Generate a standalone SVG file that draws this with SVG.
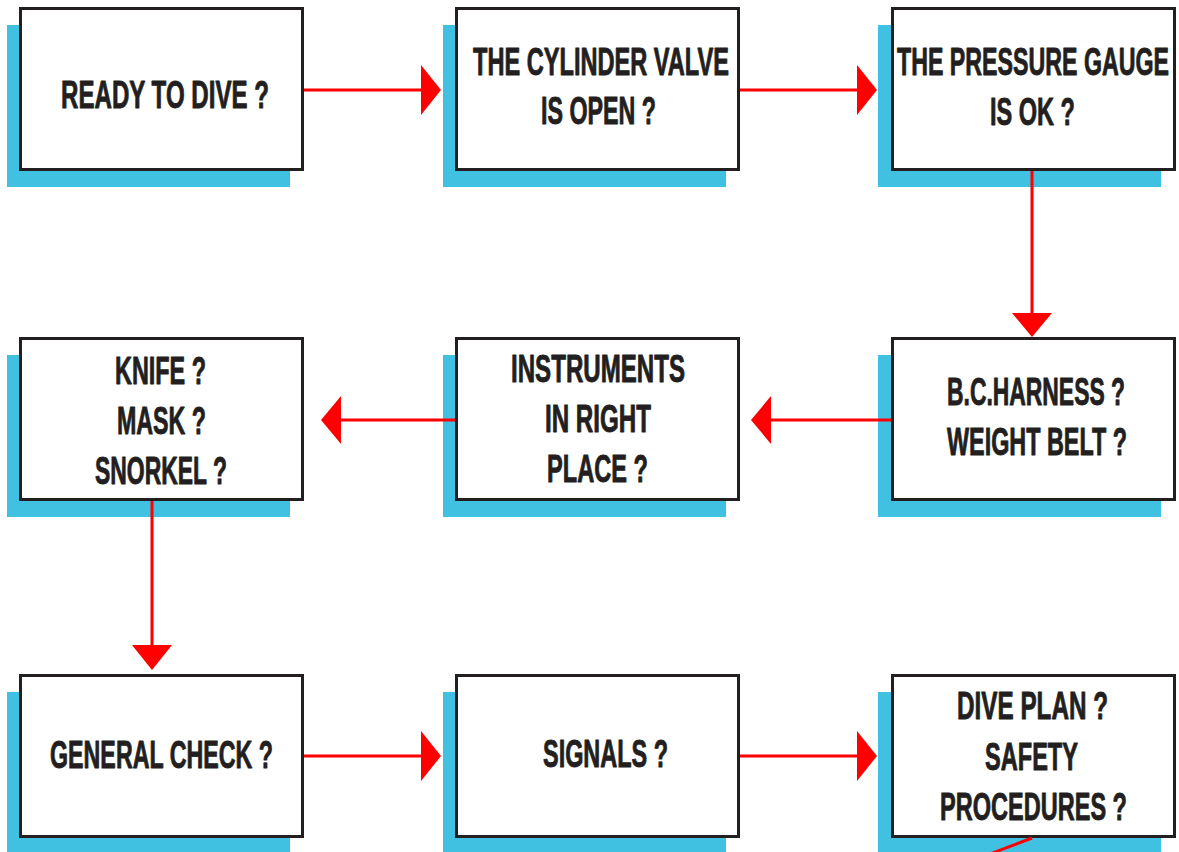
<svg xmlns="http://www.w3.org/2000/svg" width="1179" height="852" viewBox="0 0 1179 852">
  <style>
    .shadow { fill: #41c1e2; }
    .box { fill: #ffffff; stroke: #231f20; stroke-width: 3; }
    .label { font-family: "Liberation Sans", Arial, sans-serif; font-weight: bold; font-size: 38px; fill: #231f20; stroke: #231f20; stroke-width: 0.9; stroke-linejoin: round; text-anchor: middle; }
    .link { stroke: #ff0000; stroke-width: 3; fill: none; }
    .head { fill: #ff0000; }
  </style>
  <rect width="1179" height="852" fill="#ffffff"/>

  <!-- Row 1 -->
  <g id="ready">
    <rect class="shadow" x="7" y="25" width="283" height="162"/>
    <rect class="box" x="20.5" y="8.5" width="282" height="161"/>
    <text class="label" x="165" y="108" textLength="208" lengthAdjust="spacingAndGlyphs">READY TO DIVE ?</text>
  </g>
  <g id="cylinder-valve">
    <rect class="shadow" x="443" y="25" width="283" height="162"/>
    <rect class="box" x="456.5" y="8.5" width="282" height="161"/>
    <text class="label" x="601" y="75" textLength="256" lengthAdjust="spacingAndGlyphs">THE CYLINDER VALVE</text>
    <text class="label" x="598.5" y="124" textLength="115" lengthAdjust="spacingAndGlyphs">IS OPEN ?</text>
  </g>
  <g id="pressure-gauge">
    <rect class="shadow" x="878" y="25" width="283" height="162"/>
    <rect class="box" x="892.5" y="8.5" width="282" height="161"/>
    <text class="label" x="1033" y="75" textLength="272" lengthAdjust="spacingAndGlyphs">THE PRESSURE GAUGE</text>
    <text class="label" x="1032.5" y="125" textLength="85" lengthAdjust="spacingAndGlyphs">IS OK ?</text>
  </g>

  <!-- Row 2 -->
  <g id="knife-mask-snorkel">
    <rect class="shadow" x="7" y="355" width="283" height="162"/>
    <rect class="box" x="20.5" y="338.5" width="282" height="161"/>
    <text class="label" x="160.5" y="384" textLength="91" lengthAdjust="spacingAndGlyphs">KNIFE ?</text>
    <text class="label" x="161.5" y="434" textLength="89" lengthAdjust="spacingAndGlyphs">MASK ?</text>
    <text class="label" x="161" y="484" textLength="132" lengthAdjust="spacingAndGlyphs">SNORKEL ?</text>
  </g>
  <g id="instruments">
    <rect class="shadow" x="443" y="355" width="283" height="162"/>
    <rect class="box" x="456.5" y="338.5" width="282" height="161"/>
    <text class="label" x="598" y="382" textLength="174" lengthAdjust="spacingAndGlyphs">INSTRUMENTS</text>
    <text class="label" x="598" y="432" textLength="106" lengthAdjust="spacingAndGlyphs">IN RIGHT</text>
    <text class="label" x="597.5" y="482" textLength="101" lengthAdjust="spacingAndGlyphs">PLACE ?</text>
  </g>
  <g id="harness-belt">
    <rect class="shadow" x="878" y="355" width="283" height="162"/>
    <rect class="box" x="892.5" y="338.5" width="282" height="161"/>
    <text class="label" x="1036" y="405" textLength="178" lengthAdjust="spacingAndGlyphs">B.C.HARNESS ?</text>
    <text class="label" x="1037" y="455" textLength="180" lengthAdjust="spacingAndGlyphs">WEIGHT BELT ?</text>
  </g>

  <!-- Row 3 -->
  <g id="general-check">
    <rect class="shadow" x="7" y="692" width="283" height="162"/>
    <rect class="box" x="20.5" y="675.5" width="282" height="161"/>
    <text class="label" x="161.5" y="768" textLength="223" lengthAdjust="spacingAndGlyphs">GENERAL CHECK ?</text>
  </g>
  <g id="signals">
    <rect class="shadow" x="443" y="692" width="283" height="162"/>
    <rect class="box" x="456.5" y="675.5" width="282" height="161"/>
    <text class="label" x="605.5" y="767" textLength="125" lengthAdjust="spacingAndGlyphs">SIGNALS ?</text>
  </g>
  <g id="dive-plan">
    <rect class="shadow" x="878" y="692" width="283" height="162"/>
    <rect class="box" x="892.5" y="675.5" width="282" height="161"/>
    <text class="label" x="1032.5" y="719" textLength="151" lengthAdjust="spacingAndGlyphs">DIVE PLAN ?</text>
    <text class="label" x="1031.5" y="770" textLength="93" lengthAdjust="spacingAndGlyphs">SAFETY</text>
    <text class="label" x="1033.5" y="820" textLength="187" lengthAdjust="spacingAndGlyphs">PROCEDURES ?</text>
  </g>

  <!-- Connectors -->
  <g id="connectors">
    <line class="link" x1="304" y1="90" x2="422" y2="90"/>
    <polygon class="head" points="421,65 441,90 421,115"/>
    <line class="link" x1="740" y1="90" x2="858" y2="90"/>
    <polygon class="head" points="857,65 877,90 857,115"/>

    <line class="link" x1="1032" y1="171" x2="1032" y2="314"/>
    <polygon class="head" points="1012,313 1052,313 1032,337"/>

    <line class="link" x1="891" y1="420" x2="770" y2="420"/>
    <polygon class="head" points="771,396 751,420 771,444"/>
    <line class="link" x1="455" y1="420" x2="340" y2="420"/>
    <polygon class="head" points="341,396 321,420 341,444"/>

    <line class="link" x1="152" y1="501" x2="152" y2="646"/>
    <polygon class="head" points="132,645 172,645 152,670"/>

    <line class="link" x1="304" y1="756" x2="422" y2="756"/>
    <polygon class="head" points="421,731 441,756 421,781"/>
    <line class="link" x1="740" y1="756" x2="858" y2="756"/>
    <polygon class="head" points="857,731 877,756 857,781"/>

    <line class="link" x1="1032" y1="838" x2="948" y2="870"/>
  </g>
</svg>
